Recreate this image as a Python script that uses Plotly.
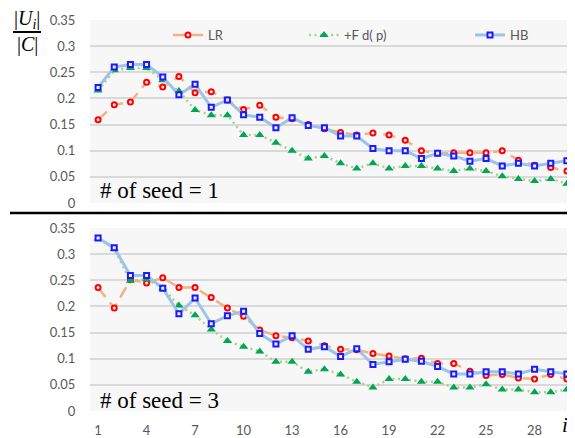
import plotly.graph_objects as go

# ---------------- data ----------------
iters = list(range(1, 31))

lr_seed1 = [0.159, 0.188, 0.193, 0.231, 0.222, 0.242, 0.211, 0.213, 0.197, 0.179,
            0.187, 0.164, 0.161, 0.150, 0.142, 0.135, 0.130, 0.134, 0.130, 0.120,
            0.100, 0.095, 0.096, 0.096, 0.096, 0.100, 0.082, 0.072, 0.068, 0.061]
fd_seed1 = [0.215, 0.254, 0.258, 0.258, 0.235, 0.214, 0.178, 0.168, 0.168, 0.130,
            0.130, 0.115, 0.100, 0.085, 0.090, 0.076, 0.066, 0.076, 0.066, 0.071,
            0.071, 0.066, 0.061, 0.066, 0.061, 0.051, 0.046, 0.042, 0.046, 0.037]
hb_seed1 = [0.221, 0.260, 0.265, 0.265, 0.241, 0.207, 0.227, 0.183, 0.197, 0.169,
            0.164, 0.144, 0.163, 0.148, 0.144, 0.128, 0.128, 0.104, 0.100, 0.100,
            0.085, 0.095, 0.090, 0.080, 0.085, 0.071, 0.076, 0.071, 0.076, 0.081]

lr_seed3 = [0.236, 0.197, 0.251, 0.245, 0.255, 0.236, 0.236, 0.217, 0.197, 0.181,
            0.155, 0.144, 0.140, 0.134, 0.125, 0.118, 0.117, 0.110, 0.105, 0.100,
            0.101, 0.091, 0.091, 0.076, 0.068, 0.070, 0.063, 0.061, 0.070, 0.061]
fd_seed3 = [0.330, 0.310, 0.249, 0.252, 0.235, 0.202, 0.183, 0.156, 0.134, 0.123,
            0.114, 0.094, 0.094, 0.075, 0.080, 0.070, 0.056, 0.045, 0.061, 0.061,
            0.056, 0.056, 0.045, 0.045, 0.051, 0.041, 0.041, 0.036, 0.036, 0.041]
hb_seed3 = [0.331, 0.312, 0.259, 0.259, 0.235, 0.186, 0.216, 0.167, 0.182, 0.191,
            0.148, 0.128, 0.144, 0.118, 0.123, 0.104, 0.119, 0.089, 0.094, 0.099,
            0.095, 0.085, 0.071, 0.071, 0.075, 0.075, 0.071, 0.080, 0.075, 0.071]

x_tick_vals = [1, 4, 7, 10, 13, 16, 19, 22, 25, 28]
y_tick_vals = [0, 0.05, 0.1, 0.15, 0.2, 0.25, 0.3, 0.35]
y_tick_text = ["0", "0.05", "0.1", "0.15", "0.2", "0.25", "0.3", "0.35"]
series_names = ["LR", "+F d( p)", "HB"]
panel_labels = ["# of seed = 1", "# of seed = 3"]

# ---------------- figure ----------------
W, H = 575, 438
OFF = 8  # page margin offset of the figure inside the browser window


def px_x(p):
    return (p - OFF) / W


def px_y(p):
    return 1 - (p - OFF) / H


styles = [
    dict(line=dict(color="#f4b183", width=2.5, dash="12px,7px"),
         marker=dict(symbol="circle", size=5, color="#fff0f0",
                     line=dict(color="#ff0000", width=2))),
    dict(line=dict(color="#a9d18e", width=2.5, dash="2px,3.5px"),
         marker=dict(symbol="triangle-up", size=8, color="#00a651",
                     line=dict(width=0))),
    dict(line=dict(color="#9dc3e6", width=3, dash="solid"),
         marker=dict(symbol="square", size=5, color="#eef2ff",
                     line=dict(color="#1a1aff", width=2))),
]

panels = [
    ("x", "y", [lr_seed1, fd_seed1, hb_seed1]),
    ("x2", "y2", [lr_seed3, fd_seed3, hb_seed3]),
]
legend_ids = ["legend", "legend2", "legend3"]

fig = go.Figure()
for pi, (xa, ya, series) in enumerate(panels):
    for si, vals in enumerate(series):
        fig.add_trace(go.Scatter(
            x=iters, y=vals, mode="lines+markers",
            name=series_names[si],
            xaxis=xa, yaxis=ya,
            line=styles[si]["line"], marker=styles[si]["marker"],
            showlegend=(pi == 0),
            legend=legend_ids[si],
        ))

tick_font = dict(family="Lato", size=13, color="#595959")
leg_font = dict(family="Lato", size=13, color="#595959")

yaxis_common = dict(range=[0, 0.35], tickvals=y_tick_vals, ticktext=y_tick_text,
                    showgrid=True, gridcolor="#d9d9d9", gridwidth=1.5,
                    zeroline=False, showline=False,
                    ticks="outside", ticklen=11, tickcolor="rgba(0,0,0,0)",
                    tickfont=tick_font, automargin=False, fixedrange=True)
xaxis_common = dict(range=[0.5, 30.5], tickvals=x_tick_vals,
                    showgrid=False, zeroline=False, showline=False,
                    ticks="outside", ticklen=7, tickcolor="rgba(0,0,0,0)",
                    tickfont=tick_font, domain=[px_x(90), px_x(575)], automargin=False)

fig.update_layout(
    width=W, height=H,
    margin=dict(l=0, r=0, t=0, b=0, autoexpand=False),
    paper_bgcolor="white",
    plot_bgcolor="#f7f7f7",
    xaxis=dict(xaxis_common, anchor="y", showticklabels=False),
    yaxis=dict(yaxis_common, anchor="x", domain=[px_y(203), px_y(20)]),
    xaxis2=dict(xaxis_common, anchor="y2", showticklabels=True),
    yaxis2=dict(yaxis_common, anchor="x2", domain=[px_y(411), px_y(228)]),
    legend=dict(orientation="h", x=px_x(168), y=px_y(35), xanchor="left", yanchor="middle",
                bgcolor="rgba(0,0,0,0)", font=leg_font),
    legend2=dict(orientation="h", x=px_x(304), y=px_y(35), xanchor="left", yanchor="middle",
                 bgcolor="rgba(0,0,0,0)", font=leg_font),
    legend3=dict(orientation="h", x=px_x(470), y=px_y(35), xanchor="left", yanchor="middle",
                 bgcolor="rgba(0,0,0,0)", font=leg_font),
    showlegend=True,
)

# panel labels
for text, yc in zip(panel_labels, [190, 400]):
    fig.add_annotation(text=text, xref="paper", yref="paper",
                       x=px_x(98), y=px_y(yc), xanchor="left", yanchor="middle",
                       showarrow=False,
                       font=dict(family="Liberation Serif", size=23, color="black"))

# y-axis fraction label
fig.add_annotation(text="|<i>U<sub>i</sub></i>|", xref="paper", yref="paper",
                   x=px_x(27), y=px_y(19), xanchor="center", yanchor="middle",
                   showarrow=False,
                   font=dict(family="Liberation Serif", size=20, color="black"))
fig.add_annotation(text="|<i>C</i>|", xref="paper", yref="paper",
                   x=px_x(27), y=px_y(45), xanchor="center", yanchor="middle",
                   showarrow=False,
                   font=dict(family="Liberation Serif", size=20, color="black"))
fig.add_shape(type="line", xref="paper", yref="paper",
              x0=px_x(13), x1=px_x(41), y0=px_y(32), y1=px_y(32),
              line=dict(color="black", width=2))

# x-axis label i
fig.add_annotation(text="<i>i</i>", xref="paper", yref="paper",
                   x=px_x(565), y=px_y(425), xanchor="center", yanchor="middle",
                   showarrow=False,
                   font=dict(family="Liberation Serif", size=21, color="black"))

# separator line between panels
fig.add_shape(type="line", xref="paper", yref="paper",
              x0=px_x(10), x1=px_x(575), y0=px_y(213), y1=px_y(213),
              line=dict(color="black", width=2.5))

fig.write_html("out.html")
